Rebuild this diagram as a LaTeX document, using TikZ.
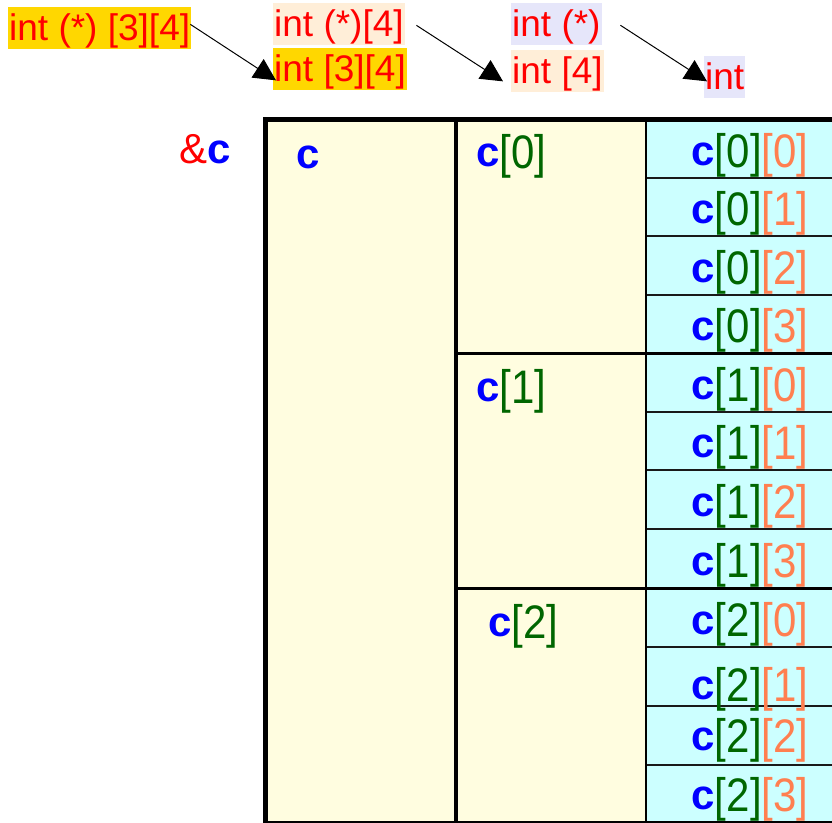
\documentclass[tikz,border=0pt]{standalone}
\usepackage{fontspec}
\setmainfont{Liberation Sans}
\usepackage{graphicx}
\usetikzlibrary{arrows.meta}
\definecolor{cblue}{HTML}{0000FF}
\definecolor{cgreen}{HTML}{006600}
\definecolor{corange}{HTML}{FF7F50}
\definecolor{cred}{HTML}{FF0000}
\definecolor{cyel}{HTML}{FFFDE0}
\definecolor{ccyan}{HTML}{CCFFFF}
\definecolor{cgold}{HTML}{FFD700}
\definecolor{cpeach}{HTML}{FFEED8}
\definecolor{clav}{HTML}{E6E6FA}
\newcommand\cvar{\textbf{\textcolor{cblue}{c}}}
\newcommand\tallpart[1]{\raisebox{-2pt}{\scalebox{1}[1.12]{#1}}}
\newcommand\gidx[1]{\tallpart{\textcolor{cgreen}{[#1]}}}
\newcommand\oidx[1]{\tallpart{\textcolor{corange}{[#1]}}}
\begin{document}
\begin{tikzpicture}[x=1pt,y=-1pt,
  typelab/.style={inner xsep=1pt, inner ysep=0pt, text height=33.5pt, text depth=7.8pt,
    anchor=north west, text=cred, font=\fontsize{37}{44}\selectfont},
  arr/.style={-{Triangle[length=22pt,width=22pt]}, line width=1pt},
  lab/.style={inner sep=0pt, anchor=base, font=\fontsize{42}{50}\selectfont},
  thinrow/.style={line width=2pt, black!90},
  thickrow/.style={line width=3pt, black}]
\useasboundingbox (0,0) rectangle (832,822);
\clip (0,0) rectangle (832,822);

% type labels
\node[typelab, fill=cgold]  (a1) at (8,7)   {int (*) [3][4]};
\node[typelab, fill=cpeach] (b1) at (273,3) {int (*)[4]};
\node[typelab, fill=cgold]  (b2) at (273,48) {int [3][4]};
\node[typelab, fill=clav]   (d1) at (511,3) {int (*)};
\node[typelab, fill=cpeach] (d2) at (511,50) {int [4]};
\node[typelab, fill=clav]   (e1) at (704,56) {int};

\draw[arr] ([xshift=-1pt,yshift=3.5pt]a1.east) -- ([xshift=3pt,yshift=-11.5pt]b2.west);
\draw[arr] ([xshift=11.5pt,yshift=-1.5pt]b1.east) -- ([xshift=-8pt,yshift=-10.5pt]d2.west);
\draw[arr] ([xshift=18.6pt,yshift=-1.4pt]d1.east) -- ([xshift=3pt,yshift=-4.5pt]e1.west);

% table fills
\fill[cyel] (265,119) rectangle (646,823);
\fill[ccyan] (646,119) rectangle (850,823);
\foreach \yy in {178,236,295,412,470,529,647,706,765}
  \draw[thinrow] (646,\yy) -- (850,\yy);
\foreach \yy in {353,588}
  \draw[thickrow] (456,\yy) -- (850,\yy);
\draw[line width=3.5pt] (456,119) -- (456,823);
\draw[line width=2.5pt] (646,119) -- (646,823);
\draw[line width=5pt] (850,119) -- (265,119) -- (265,823) -- (850,823);

% labels
\node[lab, anchor=base west] (addr) at (179.5,163) {\textcolor{cred}{\&}\cvar};
\node[lab] (cc) at (308,168) {\cvar};
\node[lab, anchor=base west] (r0) at (476,166.5) {\cvar\gidx{0}};
\node[lab, anchor=base west] (r1) at (476,401.5) {\cvar\gidx{1}};
\node[lab, anchor=base west] (r2) at (488,636.5) {\cvar\gidx{2}};

\node[lab] (e00) at (750,165)   {\cvar\gidx{0}\oidx{0}};
\node[lab] (e01) at (750,223.5) {\cvar\gidx{0}\oidx{1}};
\node[lab] (e02) at (750,282)   {\cvar\gidx{0}\oidx{2}};
\node[lab] (e03) at (750,340.5) {\cvar\gidx{0}\oidx{3}};
\node[lab] (e10) at (750,399)   {\cvar\gidx{1}\oidx{0}};
\node[lab] (e11) at (750,457.5) {\cvar\gidx{1}\oidx{1}};
\node[lab] (e12) at (750,516)   {\cvar\gidx{1}\oidx{2}};
\node[lab] (e13) at (750,575)   {\cvar\gidx{1}\oidx{3}};
\node[lab] (e20) at (750,634.5) {\cvar\gidx{2}\oidx{0}};
\node[lab] (e21) at (750,699)   {\cvar\gidx{2}\oidx{1}};
\node[lab] (e22) at (750,750)   {\cvar\gidx{2}\oidx{2}};
\node[lab] (e23) at (750,809)   {\cvar\gidx{2}\oidx{3}};
\end{tikzpicture}
\end{document}
